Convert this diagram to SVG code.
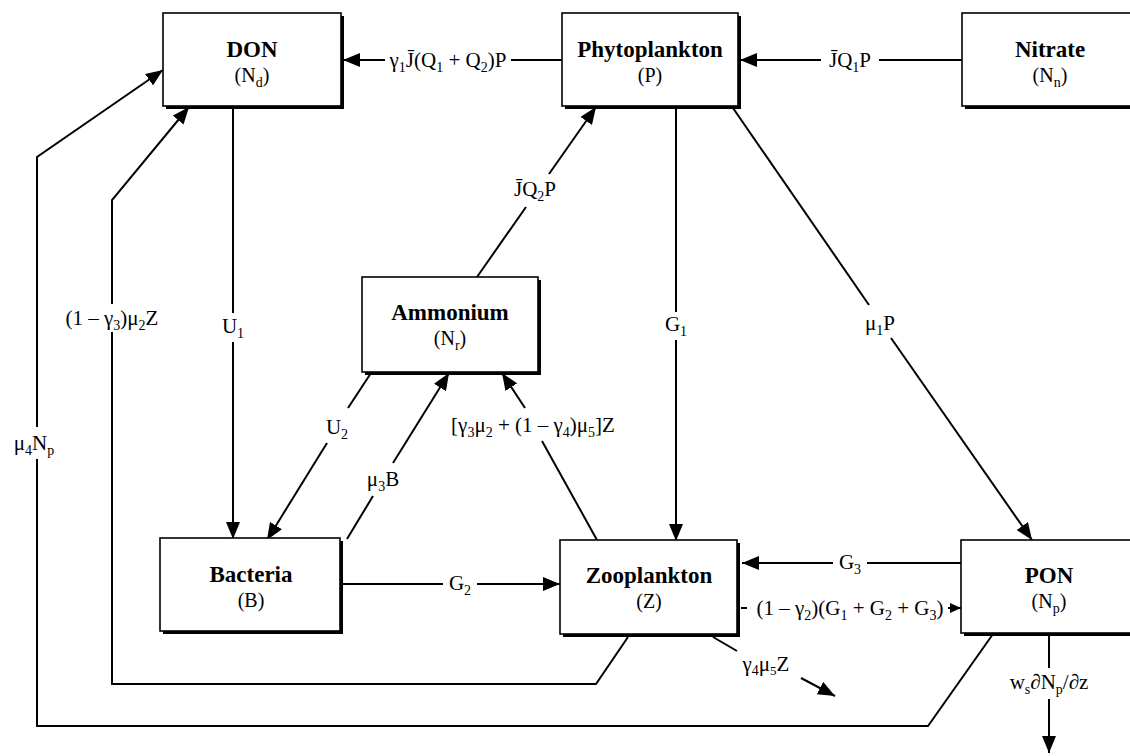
<svg xmlns="http://www.w3.org/2000/svg" width="1130" height="756" viewBox="0 0 1130 756">
<style>
.bx{fill:#fff;stroke:#000;stroke-width:1.6}
.sh{fill:#000}
.t{font-family:"Liberation Serif",serif;font-weight:bold;font-size:23px;text-anchor:middle;fill:#000}
.s{font-family:"Liberation Serif",serif;font-size:20px;text-anchor:middle;fill:#000}
.l{font-family:"Liberation Serif",serif;font-size:21px;text-anchor:middle;fill:#000}
.b{font-size:14px}
.c line,.c polyline{stroke:#000;stroke-width:2;fill:none}
</style>
<defs>
<marker id="ah" markerUnits="userSpaceOnUse" markerWidth="18" markerHeight="14" refX="17" refY="7" orient="auto">
<path d="M0,0 L17,7 L0,14 z" fill="#000"/>
</marker>
<marker id="ahs" markerUnits="userSpaceOnUse" markerWidth="12" markerHeight="10" refX="11" refY="5" orient="auto">
<path d="M0,0 L11,5 L0,10 z" fill="#000"/>
</marker>
</defs>
<rect width="1130" height="756" fill="#fff"/>

<g class="c" id="connectors">
<!-- Phyto -> DON -->
<line x1="562" y1="60" x2="511" y2="60"/>
<line x1="385" y1="60" x2="343" y2="60" marker-end="url(#ah)"/>
<text class="l" x="448" y="67">γ<tspan class="b" dy="5">1</tspan><tspan dy="-5">J̄(Q</tspan><tspan class="b" dy="5">1</tspan><tspan dy="-5"> + Q</tspan><tspan class="b" dy="5">2</tspan><tspan dy="-5">)P</tspan></text>
<!-- Nitrate -> Phyto -->
<line x1="962" y1="60" x2="879" y2="60"/>
<line x1="821" y1="60" x2="740" y2="60" marker-end="url(#ah)"/>
<text class="l" x="850" y="67">J̄Q<tspan class="b" dy="5">1</tspan><tspan dy="-5">P</tspan></text>
<!-- DON -> Bacteria -->
<line x1="233" y1="107" x2="233" y2="313"/>
<line x1="233" y1="342" x2="233" y2="539" marker-end="url(#ah)"/>
<text class="l" x="233" y="333">U<tspan class="b" dy="5">1</tspan></text>
<!-- Phyto -> Zoo -->
<line x1="676" y1="107" x2="676" y2="312"/>
<line x1="676" y1="340" x2="676" y2="541" marker-end="url(#ah)"/>
<text class="l" x="676" y="331">G<tspan class="b" dy="5">1</tspan></text>
<!-- Phyto -> PON -->
<line x1="733" y1="108" x2="869" y2="305"/>
<line x1="891" y1="338" x2="1032" y2="540" marker-end="url(#ah)"/>
<text class="l" x="880" y="330">μ<tspan class="b" dy="5">1</tspan><tspan dy="-5">P</tspan></text>
<!-- Ammonium -> Phyto -->
<line x1="477" y1="277" x2="526" y2="207"/>
<line x1="549" y1="174" x2="596" y2="107" marker-end="url(#ah)"/>
<text class="l" x="535" y="196">J̄Q<tspan class="b" dy="5">2</tspan><tspan dy="-5">P</tspan></text>
<!-- Ammonium -> Bacteria -->
<line x1="371" y1="373" x2="348" y2="408"/>
<line x1="327" y1="443" x2="267" y2="540" marker-end="url(#ah)"/>
<text class="l" x="337" y="434">U<tspan class="b" dy="5">2</tspan></text>
<!-- Bacteria -> Ammonium -->
<line x1="347" y1="539" x2="373" y2="496"/>
<line x1="393" y1="463" x2="449" y2="373" marker-end="url(#ah)"/>
<text class="l" x="383" y="486">μ<tspan class="b" dy="5">3</tspan><tspan dy="-5">B</tspan></text>
<!-- Zoo -> Ammonium -->
<line x1="597" y1="540" x2="542" y2="441"/>
<line x1="525" y1="408" x2="502" y2="373" marker-end="url(#ah)"/>
<text class="l" x="533" y="432">[γ<tspan class="b" dy="5">3</tspan><tspan dy="-5">μ</tspan><tspan class="b" dy="5">2</tspan><tspan dy="-5"> + (1 – γ</tspan><tspan class="b" dy="5">4</tspan><tspan dy="-5">)μ</tspan><tspan class="b" dy="5">5</tspan><tspan dy="-5">]Z</tspan></text>
<!-- Bacteria -> Zoo -->
<line x1="343" y1="584" x2="443" y2="584"/>
<line x1="477" y1="584" x2="560" y2="584" marker-end="url(#ah)"/>
<text class="l" x="460" y="590">G<tspan class="b" dy="5">2</tspan></text>
<!-- PON -> Zoo -->
<line x1="961" y1="563" x2="867" y2="563"/>
<line x1="833" y1="563" x2="742" y2="563" marker-end="url(#ah)"/>
<text class="l" x="850" y="569">G<tspan class="b" dy="5">3</tspan></text>
<!-- Zoo -> PON -->
<line x1="741" y1="608" x2="747" y2="608"/>
<line x1="948" y1="608" x2="961" y2="608" marker-end="url(#ahs)"/>
<text class="l" x="850" y="615">(1 – γ<tspan class="b" dy="5">2</tspan><tspan dy="-5">)(G</tspan><tspan class="b" dy="5">1</tspan><tspan dy="-5"> + G</tspan><tspan class="b" dy="5">2</tspan><tspan dy="-5"> + G</tspan><tspan class="b" dy="5">3</tspan><tspan dy="-5">)</tspan></text>
<!-- Zoo -> loss -->
<line x1="713" y1="637" x2="737" y2="651"/>
<line x1="801" y1="678" x2="835" y2="696" marker-end="url(#ah)"/>
<text class="l" x="766" y="671" font-size="19">γ<tspan class="b" font-size="13" dy="4">4</tspan><tspan dy="-4">μ</tspan><tspan font-size="13" dy="4">5</tspan><tspan dy="-4">Z</tspan></text>
<!-- Zoo -> DON -->
<polyline points="628,637 596,684 112,684 112,332"/>
<polyline points="112,304 112,200 189,107" marker-end="url(#ah)"/>
<text class="l" x="112" y="325">(1 – γ<tspan class="b" dy="5">3</tspan><tspan dy="-5">)μ</tspan><tspan class="b" dy="5">2</tspan><tspan dy="-5">Z</tspan></text>
<!-- PON -> DON -->
<polyline points="993,634 928,726 37,726 37,459"/>
<polyline points="37,427 37,157 163,70" marker-end="url(#ah)"/>
<text class="l" x="34" y="450">μ<tspan class="b" dy="5">4</tspan><tspan dy="-5">N</tspan><tspan class="b" dy="5">p</tspan></text>
<!-- PON sinking -->
<line x1="1049" y1="634" x2="1049" y2="668"/>
<line x1="1049" y1="699" x2="1049" y2="753" marker-end="url(#ah)"/>
<text class="l" x="1049" y="689">w<tspan class="b" dy="5">s</tspan><tspan dy="-5">∂N</tspan><tspan class="b" dy="5">p</tspan><tspan dy="-5">/∂z</tspan></text>
</g>

<g id="don">
<rect class="sh" x="166" y="16" width="178" height="93"/>
<rect class="bx" x="163" y="13" width="178" height="93"/>
<text class="t" x="252" y="57">DON</text>
<text class="s" x="252" y="82">(N<tspan class="b" dy="5">d</tspan><tspan dy="-5">)</tspan></text>
</g>
<g id="phytoplankton">
<rect class="sh" x="565" y="16" width="176" height="93"/>
<rect class="bx" x="562" y="13" width="176" height="93"/>
<text class="t" x="650" y="57">Phytoplankton</text>
<text class="s" x="650" y="82">(P)</text>
</g>
<g id="nitrate">
<rect class="sh" x="965" y="16" width="176" height="93"/>
<rect class="bx" x="962" y="13" width="176" height="93"/>
<text class="t" x="1050" y="57">Nitrate</text>
<text class="s" x="1050" y="82">(N<tspan class="b" dy="5">n</tspan><tspan dy="-5">)</tspan></text>
</g>
<g id="ammonium">
<rect class="sh" x="365" y="280" width="176" height="95"/>
<rect class="bx" x="362" y="277" width="176" height="95"/>
<text class="t" x="450" y="320">Ammonium</text>
<text class="s" x="450" y="345">(N<tspan class="b" dy="5">r</tspan><tspan dy="-5">)</tspan></text>
</g>
<g id="bacteria">
<rect class="sh" x="163" y="541" width="180" height="93"/>
<rect class="bx" x="160" y="538" width="180" height="93"/>
<text class="t" x="251" y="582">Bacteria</text>
<text class="s" x="251" y="607">(B)</text>
</g>
<g id="zooplankton">
<rect class="sh" x="563" y="543" width="177" height="94"/>
<rect class="bx" x="560" y="540" width="177" height="94"/>
<text class="t" x="649" y="583">Zooplankton</text>
<text class="s" x="649" y="608">(Z)</text>
</g>
<g id="pon">
<rect class="sh" x="964" y="543" width="176" height="93"/>
<rect class="bx" x="961" y="540" width="176" height="93"/>
<text class="t" x="1049" y="583">PON</text>
<text class="s" x="1049" y="608">(N<tspan class="b" dy="5">p</tspan><tspan dy="-5">)</tspan></text>
</g>
</svg>
